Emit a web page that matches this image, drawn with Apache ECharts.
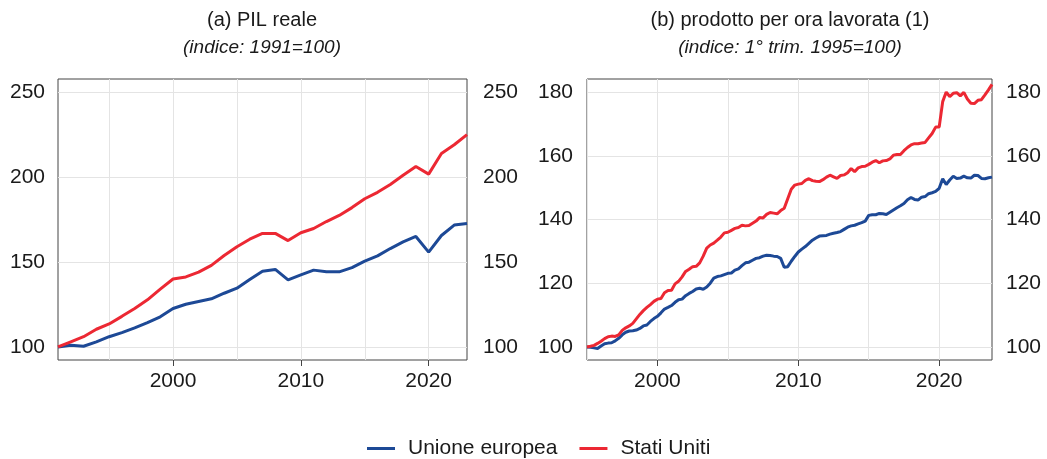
<!DOCTYPE html>
<html>
<head>
<meta charset="utf-8">
<script src="https://cdn.jsdelivr.net/npm/echarts@6/dist/echarts.min.js"></script>
<style>
  html, body { margin: 0; padding: 0; background: #fff; }
  #chart { width: 1047px; height: 459px; }
</style>
</head>
<body>
<div id="chart"></div>
<script>
// (a) PIL reale, annual, 1991=100
const years = []
for (let y = 1991; y <= 2023; y++) years.push(String(y))

const euGdp = [100, 101, 100.4, 103, 106, 108.4, 111.2, 114.3, 117.7, 122.6,
  125.1, 126.7, 128.3, 131.6, 134.6, 139.7, 144.6, 145.6, 139.5, 142.4,
  145.2, 144.2, 144.2, 146.7, 150.5, 153.6, 157.9, 161.8, 165, 155.8,
  165.6, 171.7, 172.7]
const usGdp = [100, 103, 106, 110.4, 113.5, 118, 122.6, 127.7, 134, 140,
  141.2, 144, 148, 153.8, 159, 163.4, 166.8, 166.8, 162.6, 167.2,
  169.7, 173.8, 177.4, 182, 187.2, 191, 195.6, 201, 206.2, 201.7,
  213.9, 219, 225]

// (b) prodotto per ora lavorata, quarterly, 1995Q1=100
const quarters = []
for (let y = 1995; y <= 2023; y++) for (let q = 1; q <= 4; q++) quarters.push(y + 'T' + q)

const euProd = [
  100, 99.9, 99.7, 99.5, 100.3, 101, 101.2, 101.3, 101.9, 102.7, 103.8, 104.6,
  105, 105.1, 105.3, 105.8, 106.6, 106.9, 108, 108.9, 109.6, 110.7, 111.9, 112.4,
  113, 114, 114.8, 115, 116.1, 116.8, 117.4, 118.2, 118.4, 118.1, 118.8, 120,
  121.6, 122.1, 122.3, 122.7, 123.1, 123.2, 124.1, 124.5, 125.5, 126.4, 126.6, 127.2,
  127.8, 128, 128.5, 128.8, 128.7, 128.5, 128.4, 127.8, 125, 125.2, 126.9, 128.4,
  129.8, 130.7, 131.5, 132.5, 133.5, 134.2, 134.8, 134.9, 135, 135.4, 135.7, 135.9,
  136.2, 136.9, 137.6, 138, 138.2, 138.6, 139, 139.5, 141.3, 141.5, 141.5, 141.9,
  141.8, 141.6, 142.3, 143, 143.7, 144.3, 145, 146.2, 146.9, 146.3, 146.1, 147,
  147.2, 148.1, 148.4, 148.8, 149.8, 152.8, 151, 152.4, 153.6, 152.9, 153, 153.6,
  153.1, 153, 153.9, 153.8, 152.9, 152.8, 153.1, 153.3]
const usProd = [
  100, 100.2, 100.5, 101.1, 101.8, 102.6, 103.2, 103.4, 103.3, 103.8, 105.2, 106,
  106.6, 107.4, 108.8, 110.2, 111.4, 112.4, 113.3, 114.3, 115, 115.2, 117, 117.7,
  117.8, 119.8, 120.6, 122, 123.7, 124.4, 125.2, 125.3, 126.4, 128.5, 131, 132,
  132.6, 133.5, 134.5, 135.8, 136, 136.6, 137.2, 137.5, 138.2, 138, 138.1, 138.8,
  139.5, 140.6, 140.5, 141.6, 142.2, 142, 141.8, 142.8, 143.5, 146.5, 149.5, 150.8,
  151.1, 151.3, 152.3, 152.8, 152.2, 152, 151.9, 152.5, 153.3, 153.9, 153.4, 152.9,
  153.8, 154, 154.7, 156, 155, 156.2, 156.6, 156.7, 157.3, 158, 158.5, 157.8,
  158.4, 158.5, 159, 160.2, 160.4, 160.4, 161.6, 162.6, 163.4, 163.8, 163.8, 164,
  164.2, 165.6, 167, 169, 169, 177, 180, 178.6, 179.6, 179.8, 178.8, 179.9,
  177.8, 176.5, 176.4, 177.4, 177.6, 179.1, 180.7, 182.4]

const gdpTicks = [100, 150, 200, 250]
const prodTicks = [100, 120, 140, 160, 180]

const BLUE = '#1d4996'
const RED = '#ec2833'
const TXT = '#1a1a1a'
const FONT = 'Liberation Sans, Arial, sans-serif'

const yearOf = v => parseInt(String(v).slice(0, 4), 10)

function xAxisFor(gridIndex, data, isQuarter) {
  const isStart = v => !isQuarter || String(v).endsWith('T1')
  return {
    type: 'category', gridIndex, data, boundaryGap: false,
    axisLine: { show: false },
    axisTick: {
      show: true, length: 6, lineStyle: { color: '#444' },
      interval: (i, v) => isStart(v) && yearOf(v) % 10 === 0,
    },
    axisLabel: {
      fontSize: 21, color: TXT, fontFamily: FONT, margin: 11,
      interval: (i, v) => isStart(v) && yearOf(v) % 10 === 0,
      formatter: v => String(yearOf(v)),
    },
    splitLine: {
      show: true, lineStyle: { color: '#e4e4e4', width: 1 },
      interval: (i, v) => isStart(v) && yearOf(v) % 5 === 0,
    },
  }
}

function yAxisFor(gridIndex, min, max, ticks, position, margin, grid) {
  return {
    type: 'value', gridIndex, min, max, position,
    axisLine: { show: false },
    axisTick: { show: false, customValues: ticks },
    axisLabel: { fontSize: 21, color: TXT, fontFamily: FONT, margin, customValues: ticks },
    splitLine: { show: grid, lineStyle: { color: '#e4e4e4', width: 1 } },
  }
}

function lineSeries(name, x, y, data, color) {
  return {
    name, type: 'line', xAxisIndex: x, yAxisIndex: y, data,
    symbol: 'none', lineStyle: { width: 3, color }, itemStyle: { color },
    animation: false,
  }
}

const chart = echarts.init(document.getElementById('chart'))
chart.setOption({
  animation: false,
  textStyle: { fontFamily: FONT },
  title: [
    {
      text: '(a) PIL reale', subtext: '(indice: 1991=100)',
      left: 262, top: 10, textAlign: 'center', padding: 0, itemGap: 8,
      textStyle: { fontSize: 20, fontWeight: 'normal', color: TXT, fontFamily: FONT },
      subtextStyle: { fontSize: 19, fontStyle: 'italic', color: TXT, fontFamily: FONT },
    },
    {
      text: '(b) prodotto per ora lavorata (1)', subtext: '(indice: 1° trim. 1995=100)',
      left: 790, top: 10, textAlign: 'center', padding: 0, itemGap: 8,
      textStyle: { fontSize: 20, fontWeight: 'normal', color: TXT, fontFamily: FONT },
      subtextStyle: { fontSize: 19, fontStyle: 'italic', color: TXT, fontFamily: FONT },
    },
  ],
  legend: {
    data: ['Unione europea', 'Stati Uniti'],
    icon: 'rect',
    left: 362, top: 433, itemWidth: 28, itemHeight: 3, itemGap: 22,
    textStyle: { fontSize: 21, color: TXT, fontFamily: FONT, padding: [0, 0, 0, 8] },
  },
  grid: [
    { left: 58, right: 580, top: 79, bottom: 99, show: true, borderColor: '#444', borderWidth: 1 },
    { left: 587, right: 55, top: 79, bottom: 99, show: true, borderColor: '#444', borderWidth: 1 },
  ],
  xAxis: [
    xAxisFor(0, years, false),
    xAxisFor(1, quarters, true),
  ],
  yAxis: [
    yAxisFor(0, 92.3, 257.7, gdpTicks, 'left', 13, true),
    yAxisFor(0, 92.3, 257.7, gdpTicks, 'right', 16, false),
    yAxisFor(1, 95.9, 184.1, prodTicks, 'left', 14, true),
    yAxisFor(1, 95.9, 184.1, prodTicks, 'right', 14, false),
  ],
  series: [
    lineSeries('Unione europea', 0, 0, euGdp, BLUE),
    lineSeries('Stati Uniti', 0, 0, usGdp, RED),
    lineSeries('Unione europea', 1, 2, euProd, BLUE),
    lineSeries('Stati Uniti', 1, 2, usProd, RED),
  ],
})
</script>
</body>
</html>
